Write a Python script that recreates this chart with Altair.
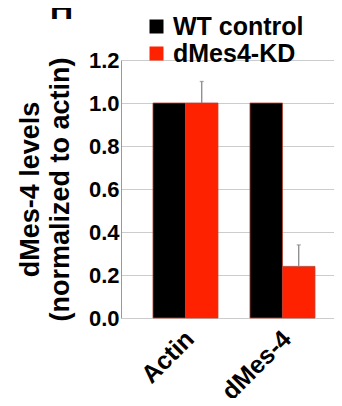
import altair as alt
import pandas as pd

genes = ["Actin", "dMes-4"]
groups = ["WT control", "dMes4-KD"]
wt_values = [1.0, 1.0]
kd_values = [1.0, 0.24]
kd_errors = [0.10, 0.10]

rows = []
for i, g in enumerate(genes):
    rows.append({"gene": g, "group": groups[0], "value": wt_values[i], "top": None})
    rows.append({"gene": g, "group": groups[1], "value": kd_values[i], "top": kd_values[i] + kd_errors[i]})
df = pd.DataFrame(rows)
err_df = df[df["top"].notna()]

FONT = "Liberation Sans"

x_enc = alt.X("gene:N", sort=genes, title=None,
              scale=alt.Scale(paddingInner=0.33, paddingOuter=0.263, align=0.627),
              axis=alt.Axis(labelAngle=-45, labelFontSize=25, labelFontWeight="bold",
                            labelFont=FONT, labelColor="black", ticks=False,
                            domain=False, labelPadding=8, labelOffset=-4))
xoff = alt.XOffset("group:N", sort=groups, scale=alt.Scale(paddingInner=0, paddingOuter=0))

bars = alt.Chart(df).mark_bar(stroke="#b8402e", strokeWidth=0.8).encode(
    x=x_enc,
    xOffset=xoff,
    y=alt.Y("value:Q", scale=alt.Scale(domain=[0, 1.2]),
            title=["dMes-4 levels", "(normalized to actin)"],
            axis=alt.Axis(values=[0, 0.2, 0.4, 0.6, 0.8, 1.0, 1.2], format=".1f",
                          labelFontSize=22, labelFontWeight="bold", labelFont=FONT,
                          labelColor="black", ticks=False, domainColor="#999999",
                          gridColor="#cccccc", labelPadding=2,
                          titleFontSize=27, titleFontWeight="bold", titleFont=FONT,
                          titleColor="black", titleLineHeight=30, titlePadding=14)),
    color=alt.Color("group:N", sort=groups,
                    scale=alt.Scale(domain=groups, range=["#000000", "#ff2200"]),
                    legend=alt.Legend(title=None, orient="none", legendX=23, legendY=-46,
                                      symbolType="square", symbolSize=196,
                                      symbolStrokeWidth=0, labelFontSize=25,
                                      labelFontWeight="bold", labelFont=FONT,
                                      labelColor="black", labelOffset=4, rowPadding=1)),
)

rules = alt.Chart(err_df).mark_rule(color="#888888", strokeWidth=1.3).encode(
    x=alt.X("gene:N", sort=genes),
    xOffset=xoff,
    y="value:Q",
    y2="top:Q",
)
caps = alt.Chart(err_df).mark_tick(color="#888888", thickness=1.3, size=4).encode(
    x=alt.X("gene:N", sort=genes),
    xOffset=xoff,
    y="top:Q",
)

chart = alt.layer(bars, rules, caps).properties(
    width=213, height=258,
    autosize=alt.AutoSizeParams(type="none"),
    padding={"left": 113, "top": 52, "right": 0, "bottom": 80},
    title=alt.TitleParams(text="H", anchor="start", frame="group", dx=-71, dy=21, offset=9,
                          fontSize=32, fontWeight="bold", font=FONT, color="black"),
).configure_view(strokeWidth=0)

chart.save("out.html", embed_options={"renderer": "svg", "actions": False})
